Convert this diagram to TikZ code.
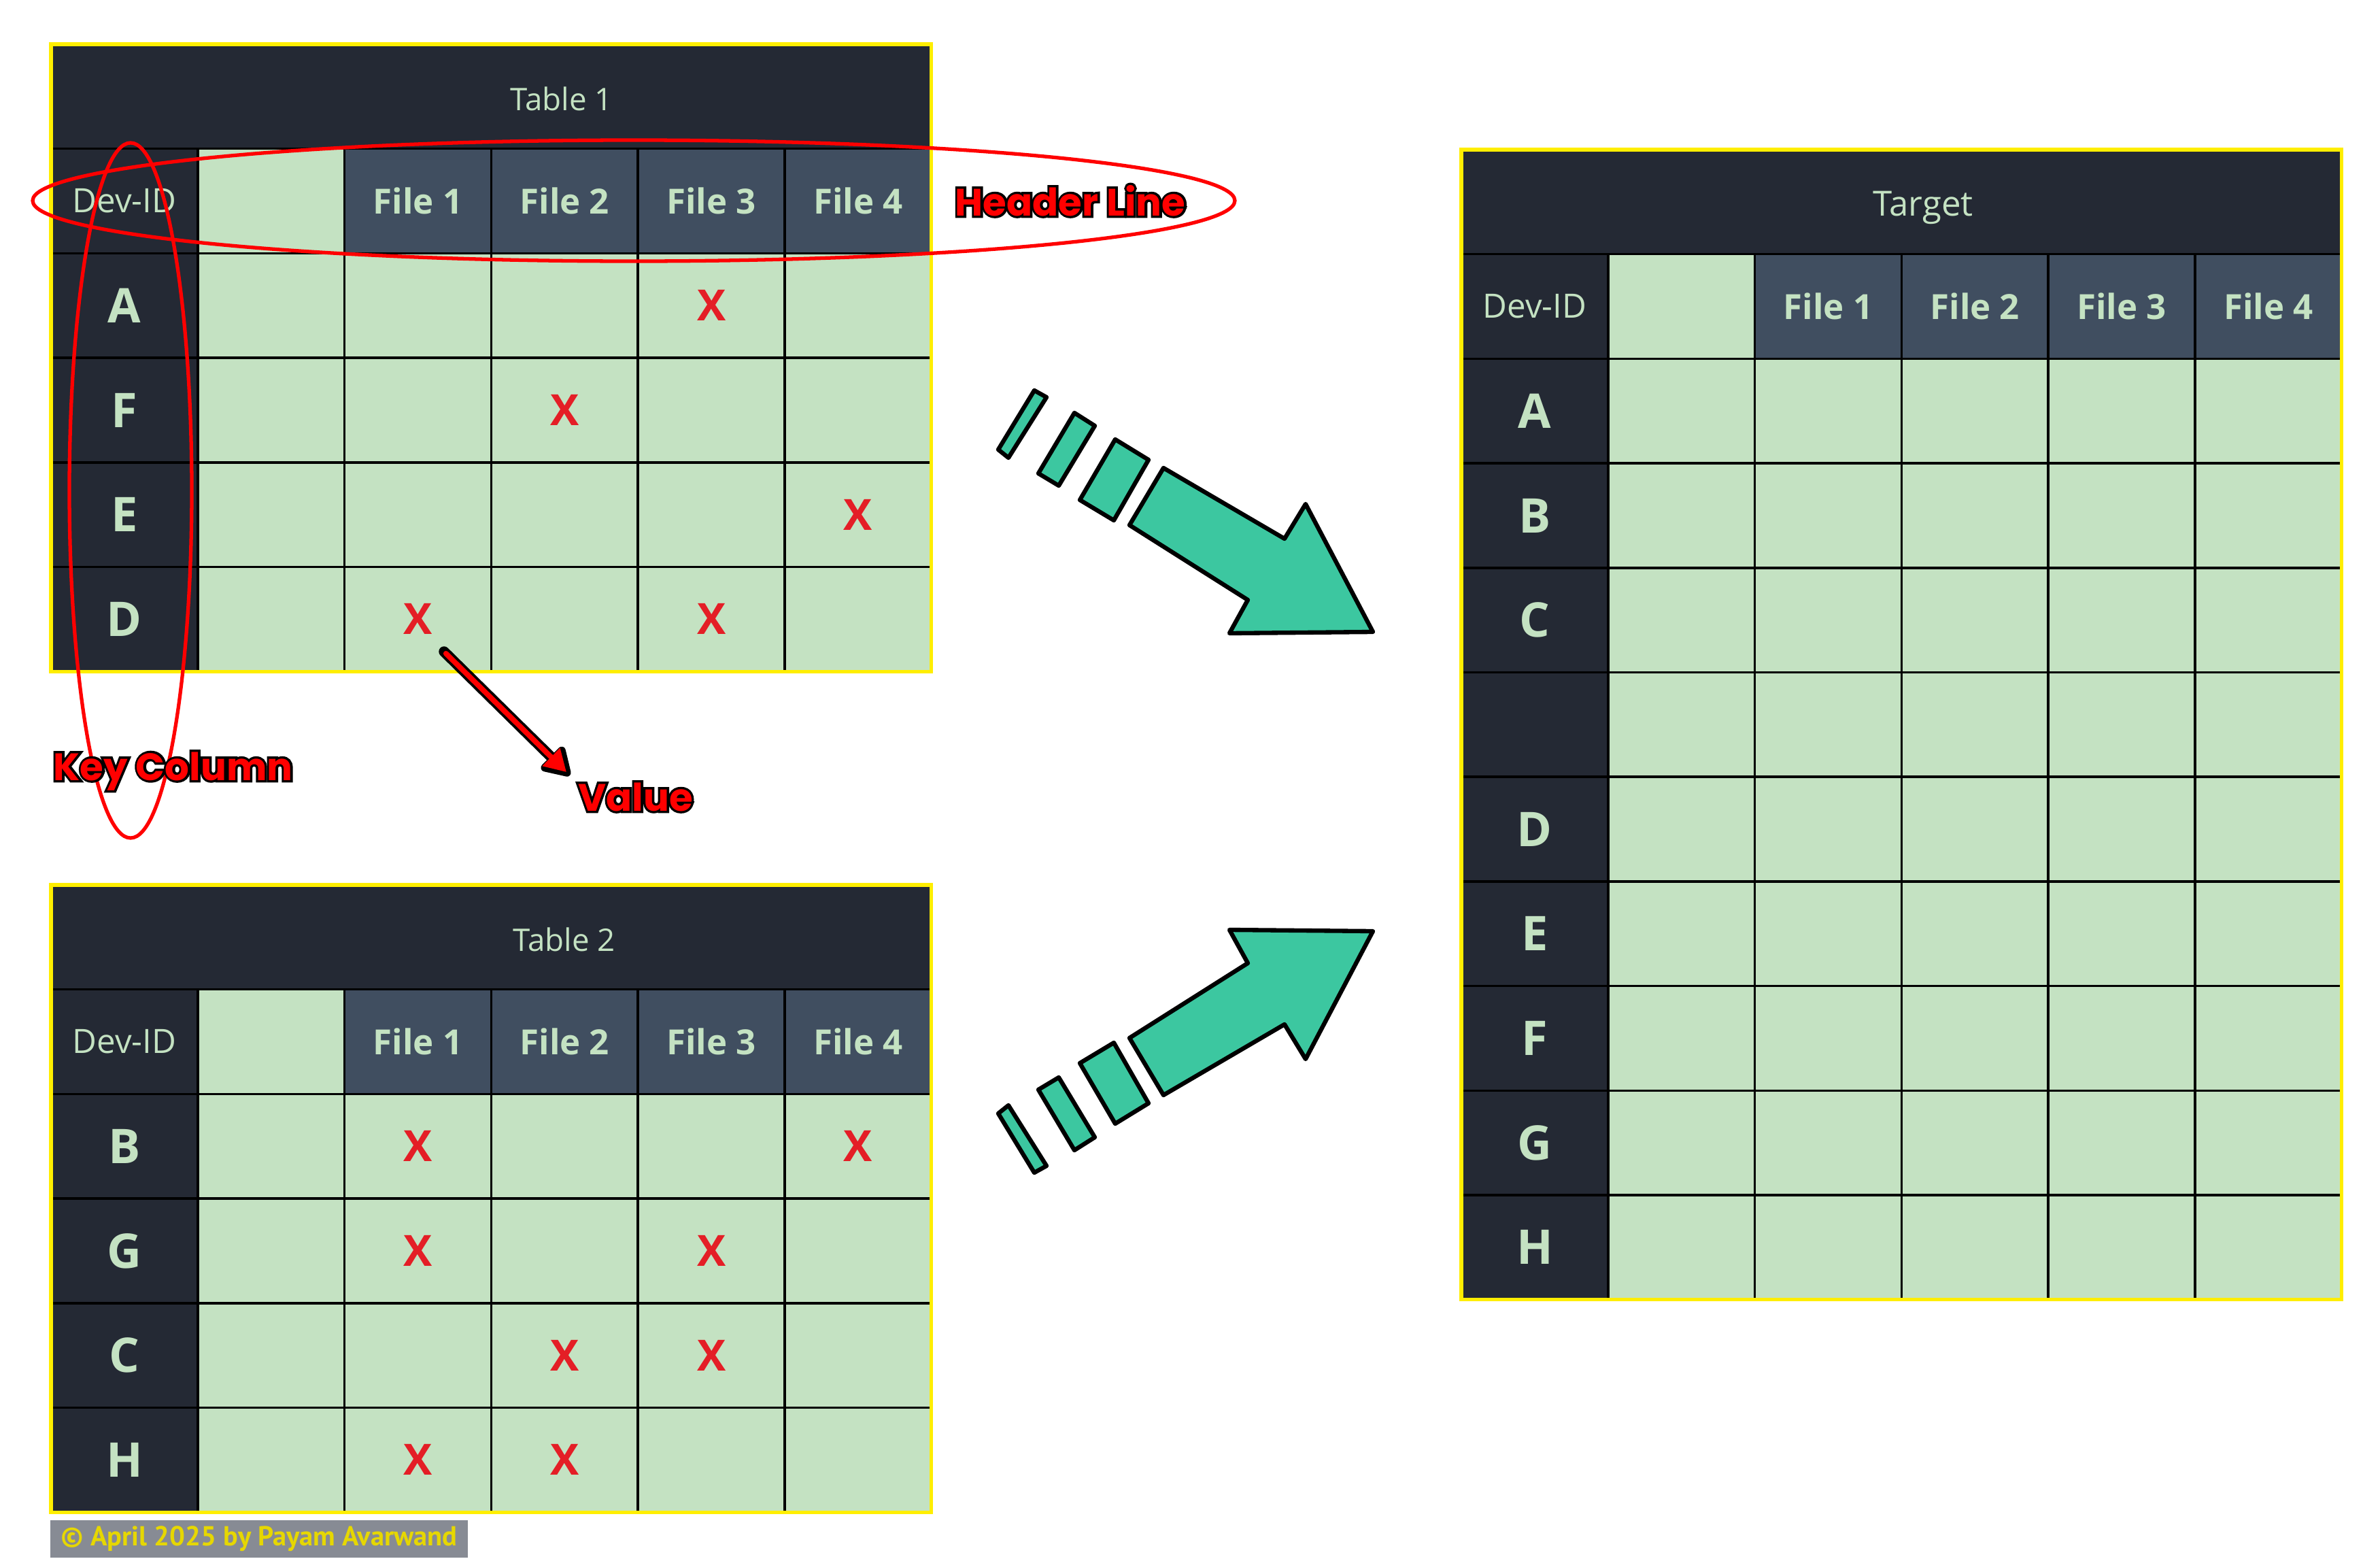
\documentclass[tikz,border=0pt]{standalone}
\usepackage{fontspec}
\setmainfont{Open Sans}
\newfontfamily\notefont{Poppins}
\newfontfamily\noteedge{Poppins}[BoldFeatures={FakeBold=12}]
\newfontfamily\footfont{PT Sans}
\usetikzlibrary{positioning,arrows.meta}

\definecolor{darkbg}{HTML}{242934}
\definecolor{slate}{HTML}{404E60}
\definecolor{mint}{HTML}{C4E2C2}
\definecolor{markred}{HTML}{E41E26}
\definecolor{frameyellow}{HTML}{FFEE00}
\definecolor{flowgreen}{HTML}{3CC7A0}
\definecolor{footgray}{HTML}{878B94}
\definecolor{footyellow}{HTML}{E6D700}

\newcommand{\colw}{2.158}
\newcommand{\rowh}{1.537}
\newcommand{\outlined}[1]{\leavevmode\rlap{\noteedge\bfseries\color{black}#1}#1}

\tikzset{
  cellbox/.style={draw=black,line width=1pt,minimum width=\colw cm,minimum height=\rowh cm,
    inner sep=0pt,outer sep=0pt,anchor=north west},
  titlecell/.style={cellbox,fill=darkbg,minimum width=6*\colw cm},
  titletext/.style={text=mint,inner sep=0pt,anchor=base,font=\fontsize{13}{15}\selectfont},
  keycell/.style={cellbox,fill=darkbg,text=mint,font=\bfseries\fontsize{20}{22}\selectfont},
  devcell/.style={cellbox,fill=darkbg,text=mint,font=\fontsize{14}{16}\selectfont},
  headcell/.style={cellbox,fill=slate,text=mint,font=\bfseries\fontsize{14.5}{16}\selectfont},
  greencell/.style={cellbox,fill=mint},
  yellowframe/.style={draw=frameyellow,line width=1.5pt},
  xmark/.style={text=markred,font=\bfseries\fontsize{18}{20}\selectfont},
  ring/.style={draw=red,line width=1.5pt},
  notelabel/.style={text=red,inner sep=0pt,anchor=base,font=\notefont\bfseries\fontsize{16}{18}\selectfont},
  flow/.style={fill=flowgreen,draw=black,line width=1.8pt,line join=round},
}

% table: prefix, top left, title, title x offset, number of rows, row keys
\newcommand{\datatable}[6]{%
  \begin{scope}[shift={#2}]
    \node[titlecell] (#1-title) at (0,0) {};
    \node[titletext] (#1-name) at (#4,-0.97) {#3};
    \node[devcell] (#1-0-k) at (0,-\rowh) {Dev-ID};
    \node[greencell] (#1-0-e) at (\colw,-\rowh) {};
    \foreach \c in {1,...,4}
      \node[headcell] (#1-0-\c) at ({(\c+1)*\colw},-\rowh) {File \c};
    \foreach \key [count=\r] in {#6} {
      \node[keycell] (#1-\r-k) at (0,{-(\r+1)*\rowh}) {\key};
      \node[greencell] (#1-\r-e) at (\colw,{-(\r+1)*\rowh}) {};
      \foreach \c in {1,...,4}
        \node[greencell] (#1-\r-\c) at ({(\c+1)*\colw},{-(\r+1)*\rowh}) {};
    }
    \draw[yellowframe] (0,0) rectangle ({6*\colw},{-(#5+2)*\rowh});
  \end{scope}}

% merge arrow with its three dashes
\newcommand{\flowarrow}{%
  \filldraw[flow] (15.21,-5.74) -- (15.39,-5.84) -- (14.83,-6.73) -- (14.68,-6.61) -- cycle;
  \filldraw[flow] (15.80,-6.07) -- (16.10,-6.26) -- (15.57,-7.14) -- (15.27,-6.96) -- cycle;
  \filldraw[flow] (16.40,-6.46) -- (16.89,-6.76) -- (16.38,-7.65) -- (15.88,-7.35) -- cycle;
  \filldraw[flow] (17.11,-6.88) -- (18.89,-7.92) -- (19.20,-7.41) -- (20.19,-9.29)
    -- (18.08,-9.31) -- (18.35,-8.82) -- (16.61,-7.72) -- cycle;}

\begin{document}
\begin{tikzpicture}
\useasboundingbox (0,0) rectangle (35,-22.92);

\datatable{t1}{(0.75,-0.65)}{Table 1}{7.51}{4}{A,F,E,D}
\datatable{t2}{(0.75,-13.01)}{Table 2}{7.55}{4}{B,G,C,H}
\tikzset{titletext/.append style={font=\fontsize{14.5}{16}\selectfont}}
\datatable{tg}{(21.49,-2.20)}{Target}{6.79}{9}{A,B,C,{},D,E,F,G,H}

% marks
\foreach \r/\c in {1/3,2/2,3/4,4/1,4/3}
  \node[xmark] at (t1-\r-\c) {X};
\foreach \r/\c in {1/1,1/4,2/1,2/3,3/2,3/3,4/1,4/2}
  \node[xmark] at (t2-\r-\c) {X};

% annotations
\draw[ring] (9.32,-2.95) ellipse [x radius=8.84,y radius=0.89];
\draw[ring] (1.92,-7.21) ellipse [x radius=0.90,y radius=5.11];
\node[notelabel] (headlabel) at (15.74,-3.17) {\outlined{Header Line}};
\node[notelabel] (keylabel) at (2.545,-11.47) {\outlined{Key Column}};
\node[notelabel] (value) at (9.345,-11.92) {\outlined{Value}};

\coordinate (valstart) at (6.53,-9.58);
\coordinate (valtip) at (8.38,-11.40);
\draw[black,line width=4.4pt,line cap=round,-{Triangle[length=13pt,width=15pt,round]}] (valstart) -- (valtip);
\draw[red,line width=2.2pt,line cap=round,shorten <=1.1pt,shorten >=2pt,-{Triangle[length=9pt,width=10pt]}] (valstart) -- (valtip);

% flow arrows
\flowarrow
\begin{scope}[yshift=-22.98cm,yscale=-1]
  \flowarrow
\end{scope}

% credit
\node[fill=footgray,minimum width=6.14cm,minimum height=0.55cm,inner sep=0pt,text=footyellow,
  font=\footfont\bfseries\fontsize{11.5}{13}\selectfont] (credit) at (3.81,-22.625) {© April 2025 by Payam Avarwand};
\end{tikzpicture}
\end{document}
